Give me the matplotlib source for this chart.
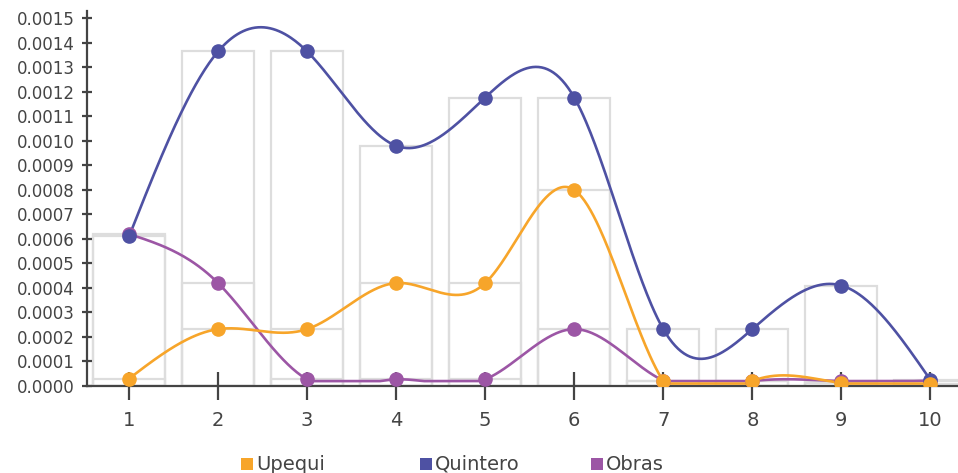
import numpy as np
import matplotlib
matplotlib.use("Agg")
import matplotlib.pyplot as plt
from matplotlib.patches import Rectangle

plt.rcParams['font.family'] = ['DejaVu Sans']

categories = [1, 2, 3, 4, 5, 6, 7, 8, 9, 10]
upequi = [0.00003, 0.000232, 0.000232, 0.00042, 0.00042, 0.0008, 0.00002, 0.00002, 0.000012, 0.00001]
quintero = [0.00061, 0.001365, 0.001365, 0.00098, 0.001177, 0.001177, 0.000232, 0.000232, 0.00041, 0.000025]
obras = [0.00062, 0.00042, 0.000027, 0.000027, 0.000027, 0.000232, 0.000022, 0.00002, 0.00002, 0.000022]
series_names = ['Upequi', 'Quintero', 'Obras']
yticks = [i * 0.0001 for i in range(16)]

colors = {'Upequi': '#F7A52A', 'Quintero': '#4E51A3', 'Obras': '#9C56A5'}
data = {'Upequi': upequi, 'Quintero': quintero, 'Obras': obras}


def natural_spline(x, y, per=60):
    """Natural cubic spline through the points, kept above the series minimum."""
    x = np.asarray(x, float)
    y = np.asarray(y, float)
    n = len(x)
    h = np.diff(x)
    A = np.zeros((n, n))
    r = np.zeros(n)
    A[0, 0] = A[-1, -1] = 1.0
    for i in range(1, n - 1):
        A[i, i - 1] = h[i - 1]
        A[i, i] = 2 * (h[i - 1] + h[i])
        A[i, i + 1] = h[i]
        r[i] = 6 * ((y[i + 1] - y[i]) / h[i] - (y[i] - y[i - 1]) / h[i - 1])
    M = np.linalg.solve(A, r)
    xs, ys = [], []
    for i in range(n - 1):
        t = np.linspace(x[i], x[i + 1], per, endpoint=(i == n - 2))
        a = (x[i + 1] - t) / h[i]
        b = (t - x[i]) / h[i]
        s = (a * y[i] + b * y[i + 1]
             + ((a ** 3 - a) * M[i] + (b ** 3 - b) * M[i + 1]) * h[i] ** 2 / 6)
        xs.append(t)
        ys.append(s)
    ys = np.maximum(np.concatenate(ys), y.min())
    return np.concatenate(xs), ys


fig = plt.figure(figsize=(9.58, 4.73), dpi=100)
ax = fig.add_axes([87 / 958, 1 - 386 / 473, 1 - 87 / 958, (386 - 11) / 473])

# outlined background bars, one per series value at each category
for name in series_names:
    ax.bar(categories, data[name], width=0.81, facecolor='none',
           edgecolor='#DDDDDD', linewidth=1.6, zorder=1)

for name in ['Obras', 'Quintero', 'Upequi']:
    xs, ys = natural_spline(categories, data[name])
    ax.plot(xs, ys, color=colors[name], linewidth=1.9, zorder=3)
    ax.plot(categories, data[name], 'o', color=colors[name], markersize=9.5,
            zorder=4)

ax.set_xlim(0.528, 10.31)
ax.set_ylim(0, 0.00153)
ax.set_xticks(categories)
ax.set_xticklabels([str(c) for c in categories])
ax.set_yticks(yticks)
ax.set_yticklabels([f'{v:.4f}' for v in yticks])

for side in ['top', 'right']:
    ax.spines[side].set_visible(False)
for side in ['left', 'bottom']:
    ax.spines[side].set_color('#444444')
    ax.spines[side].set_linewidth(1.6)

ax.tick_params(axis='y', direction='inout', length=7.5, width=1.6,
               color='#444444', labelsize=12, labelcolor='#444444', pad=5)
ax.tick_params(axis='x', direction='inout', length=19.5, width=1.6,
               color='#444444', labelsize=14, labelcolor='#444444', pad=8.5)

# legend along the bottom
legend_items = [('Upequi', 241), ('Quintero', 420), ('Obras', 591)]
for name, px in legend_items:
    fig.add_artist(Rectangle((px / 958, 1 - 470 / 473), 12 / 958, 12 / 473,
                             transform=fig.transFigure, facecolor=colors[name],
                             edgecolor='none'))
    fig.text((px + 15) / 958, 1 - 464 / 473, name, fontsize=14,
             color='#444444', va='center', ha='left')

fig.savefig('out.png', dpi=100)
